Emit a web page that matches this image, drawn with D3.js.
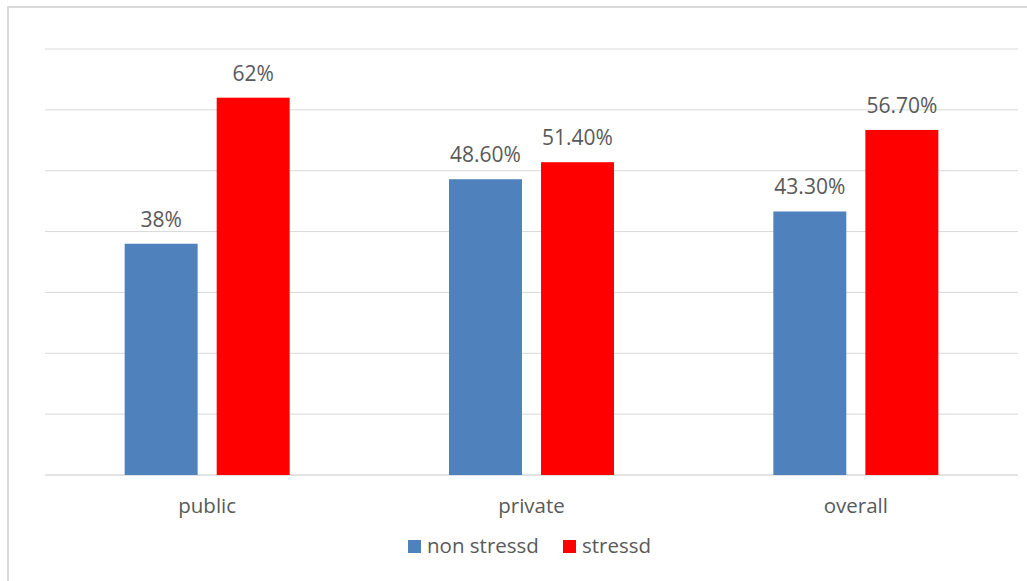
<!DOCTYPE html>
<html>
<head>
<meta charset="utf-8">
<script src="https://d3js.org/d3.v7.min.js"></script>
<style>
  body { margin: 0; background: #fff; }
  text { font-family: "Open Sans", Lato, sans-serif; fill: #595959; }
</style>
</head>
<body>
<div id="chart"></div>
<script>
// Data
const categories = ["public", "private", "overall"];
const seriesNames = ["non stressd", "stressd"];
const nonStressed = [38, 48.6, 43.3];
const stressed = [62, 51.4, 56.7];
const valueLabels = [["38%", "48.60%", "43.30%"], ["62%", "51.40%", "56.70%"]];
const yTicks = [0, 10, 20, 30, 40, 50, 60, 70];
const colors = ["#4F81BD", "#FF0000"];

const width = 1027, height = 581;
const plot = { left: 45, right: 1018, top: 49, bottom: 475 };

const svg = d3.select("#chart")
    .append("svg")
    .attr("width", width)
    .attr("height", height);

// Outer frame
svg.append("rect")
    .attr("x", 8).attr("y", 7)
    .attr("width", 1030).attr("height", 590)
    .attr("fill", "none")
    .attr("stroke", "#d9d9d9")
    .attr("stroke-width", 2);

// Scales
const x0 = d3.scaleBand().domain(categories).range([plot.left, plot.right]);
const x1 = d3.scaleBand().domain(seriesNames)
    .range([x0.bandwidth() / 2 - 82.5, x0.bandwidth() / 2 + 82.5])
    .paddingInner(0.207);
const y = d3.scaleLinear().domain([0, 70]).range([plot.bottom, plot.top]);

// Gridlines
svg.append("g")
    .selectAll("line")
    .data(yTicks)
    .join("line")
    .attr("x1", plot.left).attr("x2", plot.right)
    .attr("y1", d => y(d)).attr("y2", d => y(d))
    .attr("stroke", "#d9d9d9")
    .attr("stroke-width", d => d === 0 ? 1.5 : 1);

// Bars
const series = [nonStressed, stressed];
const groups = svg.append("g")
    .selectAll("g")
    .data(categories)
    .join("g")
    .attr("transform", d => `translate(${x0(d)},0)`);

const cells = (c, i) => seriesNames.map((s, j) => ({ s, j, v: series[j][i], label: valueLabels[j][i] }));

groups.selectAll("rect")
    .data(cells)
    .join("rect")
    .attr("x", d => x1(d.s))
    .attr("width", x1.bandwidth())
    .attr("y", d => y(d.v))
    .attr("height", d => y(0) - y(d.v))
    .attr("fill", d => colors[d.j]);

groups.selectAll("text")
    .data(cells)
    .join("text")
    .attr("x", d => x1(d.s) + x1.bandwidth() / 2)
    .attr("y", d => y(d.v) - 17)
    .attr("text-anchor", "middle")
    .attr("font-size", 21)
    .text(d => d.label);

// Category labels
svg.append("g")
    .selectAll("text")
    .data(categories)
    .join("text")
    .attr("x", d => x0(d) + x0.bandwidth() / 2)
    .attr("y", 513)
    .attr("text-anchor", "middle")
    .attr("font-size", 20.5)
    .text(d => d);

// Legend
const legendX = [408, 563];
const legend = svg.append("g")
    .selectAll("g")
    .data(seriesNames)
    .join("g")
    .attr("transform", (d, i) => `translate(${legendX[i]},540)`);

legend.append("rect")
    .attr("width", 13).attr("height", 13)
    .attr("fill", (d, i) => colors[i]);

legend.append("text")
    .attr("x", 19).attr("y", 12.5)
    .attr("font-size", 20.5)
    .text(d => d);
</script>
</body>
</html>
